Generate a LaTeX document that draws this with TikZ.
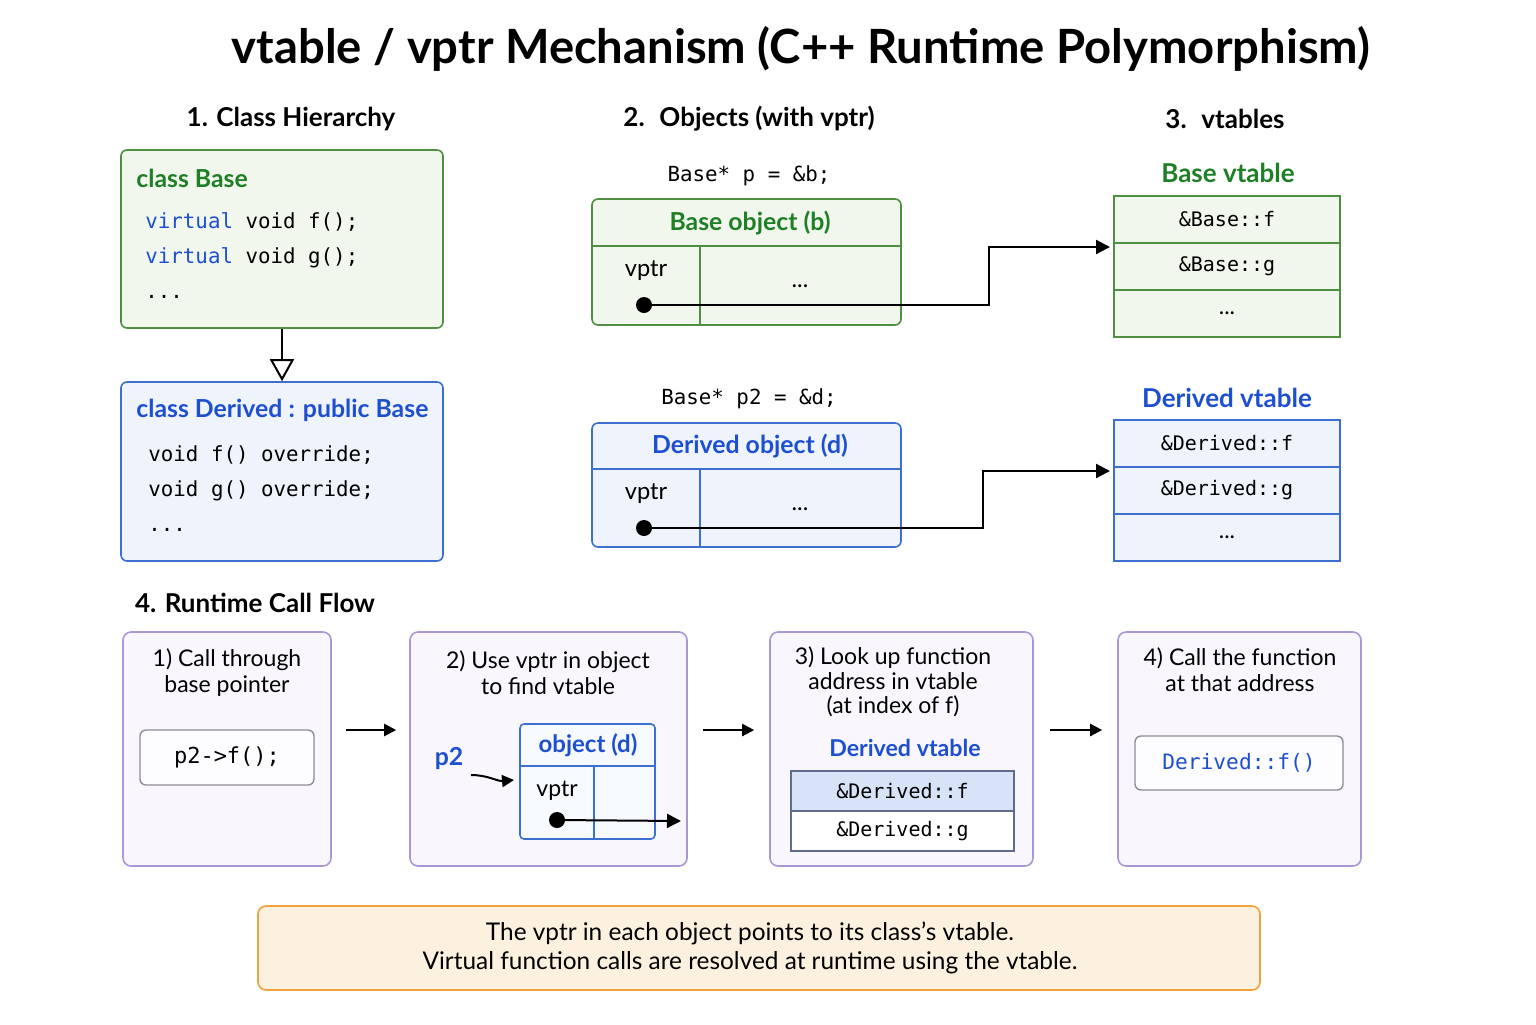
\documentclass[tikz,border=0pt]{standalone}
\usepackage{fontspec}
\setmainfont{Lato}
\setmonofont{DejaVu Sans Mono}
\usepackage{tikz}
\usetikzlibrary{arrows.meta,positioning}

\definecolor{grnline}{HTML}{4F8F42}
\definecolor{grnfill}{HTML}{F1F7EC}
\definecolor{grntext}{HTML}{1F7F26}
\definecolor{bluline}{HTML}{3D6FD0}
\definecolor{blufill}{HTML}{EEF3FC}
\definecolor{blutext}{HTML}{1D4FD0}
\definecolor{purline}{HTML}{AB97D8}
\definecolor{purfill}{HTML}{F9F7FD}
\definecolor{orgline}{HTML}{F0A33C}
\definecolor{orgfill}{HTML}{FCF1DE}
\definecolor{grayline}{HTML}{8C8C98}
\definecolor{rowline}{HTML}{5F6C8C}
\definecolor{hilite}{HTML}{D7E4F8}

\begin{document}
\begin{tikzpicture}[
      x=0.5pt, y=-0.5pt,
      >=Stealth,
      heading/.style={font=\bfseries\fontsize{13}{15}\selectfont},
      label/.style={font=\bfseries\fontsize{12.4}{14}\selectfont},
      code/.style={font=\ttfamily\fontsize{10.4}{12}\selectfont, inner sep=0pt},
      plain/.style={font=\fontsize{11.8}{13}\selectfont},
      greenbox/.style={draw=grnline, fill=grnfill, line width=0.8pt, rounded corners=3pt},
      bluebox/.style={draw=bluline, fill=blufill, line width=0.8pt, rounded corners=3pt},
      stepbox/.style={draw=purline, fill=purfill, line width=0.8pt, rounded corners=4pt,
                      minimum height=117pt},
      codebox/.style={draw=grayline, fill=white!60!purfill, line width=0.7pt, rounded corners=3pt},
      vrow/.style={draw, line width=0.8pt, outer sep=0pt, minimum width=113pt,
                   minimum height=23.5pt, font=\ttfamily\fontsize{10}{12}\selectfont},
      srow/.style={draw=rowline, line width=0.7pt, outer sep=0pt, minimum width=111.5pt,
                   minimum height=20pt, font=\ttfamily\fontsize{10}{12}\selectfont},
      dot/.style={circle, fill=black, inner sep=0pt, minimum size=8pt},
      ptr/.style={->, line width=1.1pt, >={Triangle[length=7pt, width=7pt]}},
      flow/.style={->, line width=1.1pt, >={Triangle[length=6pt, width=6pt]}},
      steptext/.style={font=\fontsize{11.5}{13}\selectfont, align=center},
    ]
    \useasboundingbox (0,0) rectangle (1536,1024);
    \fill[white] (0,0) rectangle (1536,1024);

    % title
    \node[font=\bfseries\fontsize{23.6}{26}\selectfont] (title) at (801,49)
      {vtable / vptr Mechanism (C++ Runtime Polymorphism)};

    % section headings
    \node[heading] (h1) at (291,119) {1. Class Hierarchy};
    \node[heading] (h2) at (749,119) {2. \ Objects (with vptr)};
    \node[heading] (h3) at (1225,119) {3. \ vtables};
    \node[heading, anchor=west] (h4) at (128,603) {4. Runtime Call Flow};

    % 1. class hierarchy
    \node[greenbox, minimum width=161pt, minimum height=89pt] (baseclass) at (282,239) {};
    \node[label, text=grntext, anchor=west, inner sep=0pt] (basename) at (136,178) {class Base};
    \node[code, anchor=base west] (bc1) at (145,228) {\textcolor{blutext}{virtual} void f();};
    \node[code, anchor=base west] (bc2) at (145,263) {\textcolor{blutext}{virtual} void g();};
    \node[code, anchor=base west] (bc3) at (145,298) {...};

    \node[bluebox, minimum width=161pt, minimum height=89.5pt] (derclass) at (282,471.5) {};
    \node[label, text=blutext, anchor=west, inner sep=0pt] (dername) at (136,410)
      {class Derived : public Base};
    \node[code, anchor=base west] (dc1) at (148,461) {void f() override;};
    \node[code, anchor=base west] (dc2) at (148,496) {void g() override;};
    \node[code, anchor=base west] (dc3) at (148,531) {...};

    \draw[line width=1pt, -{Triangle[open, length=11pt, width=12pt, line width=1pt]}]
      (baseclass.south) -- (derclass.north);

    % 2. objects
    \node[code] (pdecl) at (749,176) {Base* p = \&b;};
    \node[greenbox, minimum width=154.5pt, minimum height=63pt] (bobj) at (746.5,262) {};
    \draw[grnline, line width=0.8pt] ([yshift=-24pt]bobj.north west) -- ([yshift=-24pt]bobj.north east);
    \draw[grnline, line width=0.8pt] ([xshift=54.5pt, yshift=-24pt]bobj.north west)
      -- ([xshift=54.5pt]bobj.south west);
    \node[label, text=grntext] (bobjname) at (750,223) {Base object (b)};
    \node[plain] (bvptr) at (646,271) {vptr};
    \node[plain, anchor=base] (bmore) at (800,287) {...};
    \node[dot] (bdot) at (644,305) {};

    \node[code] (p2decl) at (749,399) {Base* p2 = \&d;};
    \node[bluebox, minimum width=154.5pt, minimum height=62pt] (dobj) at (746.5,485) {};
    \draw[bluline, line width=0.8pt] ([yshift=-23.5pt]dobj.north west) -- ([yshift=-23.5pt]dobj.north east);
    \draw[bluline, line width=0.8pt] ([xshift=54.5pt, yshift=-23.5pt]dobj.north west)
      -- ([xshift=54.5pt]dobj.south west);
    \node[label, text=blutext] (dobjname) at (750,446) {Derived object (d)};
    \node[plain] (dvptr) at (646,494) {vptr};
    \node[plain, anchor=base] (dmore) at (800,510) {...};
    \node[dot] (ddot) at (644,528) {};

    % 3. vtables
    \node[label, text=grntext, font=\bfseries\fontsize{13}{15}\selectfont] (bvtname) at (1228,173) {Base vtable};
    \node[vrow, draw=grnline, fill=grnfill] (bvf) at (1227,219.5) {\&Base::f};
    \node[vrow, draw=grnline, fill=grnfill, below=0pt of bvf] (bvg) {\&Base::g};
    \node[vrow, draw=grnline, fill=grnfill, below=0pt of bvg, font=\fontsize{11.5}{13}\selectfont] (bvd) {...};

    \node[label, text=blutext, font=\bfseries\fontsize{13}{15}\selectfont] (dvtname) at (1227,398) {Derived vtable};
    \node[vrow, draw=bluline, fill=blufill] (dvf) at (1227,443.5) {\&Derived::f};
    \node[vrow, draw=bluline, fill=blufill, below=0pt of dvf] (dvg) {\&Derived::g};
    \node[vrow, draw=bluline, fill=blufill, below=0pt of dvg, font=\fontsize{11.5}{13}\selectfont] (dvd) {...};

    \coordinate (bturn) at (989,247);
    \coordinate (dturn) at (983,471);
    \draw[ptr] (bdot.center) -| (bturn) -- ([xshift=-2pt]bturn -| bvf.west);
    \draw[ptr] (ddot.center) -| (dturn) -- ([xshift=-2pt]dturn -| dvf.west);

    % 4. runtime call flow
    \node[stepbox, minimum width=104pt] (s1) at (227,749) {};
    \node[stepbox, minimum width=138.5pt] (s2) at (548.5,749) {};
    \node[stepbox, minimum width=131.5pt] (s3) at (901.5,749) {};
    \node[stepbox, minimum width=121.5pt] (s4) at (1239.5,749) {};

    \draw[flow] ([yshift=9.5pt, xshift=7pt]s1.east) -- ([yshift=9.5pt, xshift=-6.5pt]s2.west);
    \draw[flow] ([yshift=9.5pt, xshift=7.5pt]s2.east) -- ([yshift=9.5pt, xshift=-7.5pt]s3.west);
    \draw[flow] ([yshift=9.5pt, xshift=8pt]s3.east) -- ([yshift=9.5pt, xshift=-7.5pt]s4.west);

    % step 1
    \node[steptext] (s1t) at (227,673) {1) Call through\\base pointer};
    \node[codebox, minimum width=87pt, minimum height=27.5pt,
          font=\ttfamily\fontsize{11}{13}\selectfont] (s1c) at (227,757.5) {p2->f();};

    % step 2
    \node[steptext] (s2t) at (548,673) {2) Use vptr in object\\to find vtable};
    \node[label, text=blutext] (p2lbl) at (449,758) {p2};
    \node[draw=bluline, fill=white!50!blufill, line width=0.8pt, rounded corners=2pt,
          minimum width=67.5pt, minimum height=57.5pt] (sobj) at (587.5,781.5) {};
    \draw[bluline, line width=0.8pt] ([yshift=-21.5pt]sobj.north west) -- ([yshift=-21.5pt]sobj.north east);
    \draw[bluline, line width=0.8pt] ([xshift=37.5pt, yshift=-21.5pt]sobj.north west)
      -- ([xshift=37.5pt]sobj.south west);
    \node[label, text=blutext, font=\bfseries\fontsize{12}{14}\selectfont] (sobjname) at (588,745) {object (d)};
    \node[plain, font=\fontsize{11.5}{13}\selectfont] (svptr) at (557,791) {vptr};
    \node[dot] (sdot) at (557,820) {};
    \coordinate (sobjout) at (681,821);
    \draw[ptr, line width=1pt] (sdot.center) -- (sobjout);
    \coordinate (p2tail) at (471,775);
    \coordinate (p2tip) at (514,780);
    \draw[flow, line width=1pt] (p2tail) to[out=0, in=185] (p2tip);

    % step 3
    \node[steptext, font=\fontsize{11.5}{12.3}\selectfont] (s3t) at (893,682)
      {3) Look up function\\address in vtable\\(at index of f)};
    \node[label, text=blutext, font=\bfseries\fontsize{11.6}{13}\selectfont] (s3name) at (905,748) {Derived vtable};
    \node[srow, fill=hilite] (s3f) at (902.5,791) {\&Derived::f};
    \node[srow, fill=white, below=0pt of s3f] (s3g) {\&Derived::g};

    % step 4
    \node[steptext] (s4t) at (1240,670) {4) Call the function\\at that address};
    \node[codebox, minimum width=104pt, minimum height=27pt, text=blutext,
          font=\ttfamily\fontsize{10.6}{13}\selectfont] (s4c) at (1239,763) {Derived::f()};

    % note
    \node[draw=orgline, fill=orgfill, line width=0.8pt, rounded corners=4pt,
          minimum width=501pt, minimum height=42pt] (note) at (759,948) {};
    \node[font=\fontsize{12.2}{14.5}\selectfont, align=center] (notetext) at (750,948)
      {The vptr in each object points to its class’s vtable.\\
       Virtual function calls are resolved at runtime using the vtable.};
  \end{tikzpicture}
\end{document}
